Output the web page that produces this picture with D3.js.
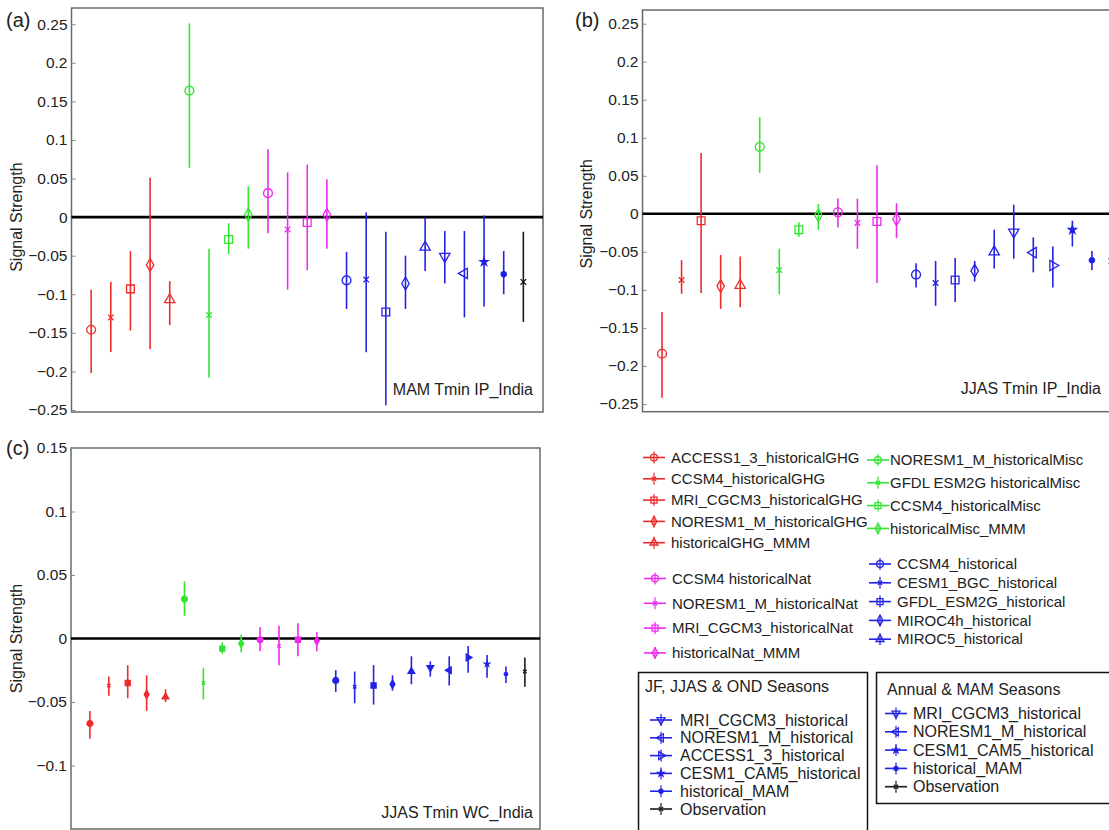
<!DOCTYPE html>
<html>
<head>
<meta charset="utf-8">
<script src="https://cdn.jsdelivr.net/npm/d3@7"></script>
<style>
  body { margin: 0; background: #fff; }
  text { font-family: "Liberation Sans", Arial, Helvetica, sans-serif; fill: #222; }
</style>
</head>
<body>
<svg id="chart" width="1109" height="830"></svg>
<script>
// category keys, one per error bar (left to right)
var keysAll = ['ACCESS1_3_GHG', 'CCSM4_GHG', 'MRI_CGCM3_GHG', 'NORESM1_M_GHG', 'GHG_MMM',
	'NORESM1_M_Misc', 'GFDL_ESM2G_Misc', 'CCSM4_Misc', 'Misc_MMM',
	'CCSM4_Nat', 'NORESM1_M_Nat', 'MRI_CGCM3_Nat', 'Nat_MMM',
	'CCSM4_hist', 'CESM1_BGC_hist', 'GFDL_ESM2G_hist', 'MIROC4h_hist', 'MIROC5_hist',
	'MRI_CGCM3_hist', 'NORESM1_M_hist', 'ACCESS1_3_hist', 'CESM1_CAM5_hist', 'hist_MMM', 'Observation'];
// MAM panel has no ACCESS1_3 historical run
var keysA = keysAll.filter(function(k) { return k !== 'ACCESS1_3_hist'; });

// (a) MAM Tmin IP_India
var meanA = [-0.146, -0.130, -0.093, -0.062, -0.107, 0.164, -0.127, -0.029, 0.003, 0.031, -0.016, -0.007, 0.003,
	-0.082, -0.081, -0.123, -0.086, -0.039, -0.051, -0.073, -0.058, -0.074, -0.084];
var lowA = [-0.202, -0.175, -0.147, -0.171, -0.140, 0.064, -0.208, -0.048, -0.041, -0.021, -0.094, -0.069, -0.041,
	-0.119, -0.175, -0.244, -0.119, -0.070, -0.086, -0.130, -0.116, -0.100, -0.136];
var highA = [-0.094, -0.084, -0.044, 0.051, -0.083, 0.251, -0.041, -0.008, 0.040, 0.088, 0.058, 0.068, 0.049,
	-0.045, 0.006, -0.019, -0.050, -0.001, -0.018, -0.018, 0.002, -0.044, -0.019];

// (b) JJAS Tmin IP_India
var meanB = [-0.184, -0.087, -0.009, -0.095, -0.094, 0.088, -0.074, -0.021, -0.002, 0.002, -0.012, -0.010, -0.007,
	-0.080, -0.091, -0.087, -0.075, -0.050, -0.024, -0.051, -0.068, -0.021, -0.061, -0.062];
var lowB = [-0.242, -0.105, -0.104, -0.125, -0.123, 0.054, -0.106, -0.030, -0.021, -0.018, -0.046, -0.091, -0.032,
	-0.097, -0.121, -0.116, -0.089, -0.072, -0.059, -0.077, -0.097, -0.043, -0.074, -0.075];
var highB = [-0.129, -0.061, 0.080, -0.054, -0.056, 0.127, -0.046, -0.011, 0.013, 0.020, 0.020, 0.064, 0.014,
	-0.065, -0.062, -0.058, -0.062, -0.021, 0.012, -0.031, -0.043, -0.009, -0.049, -0.048];

// (c) JJAS Tmin WC_India
var meanC = [-0.067, -0.037, -0.035, -0.044, -0.046, 0.031, -0.035, -0.008, -0.004, -0.001, -0.006, -0.001, -0.002,
	-0.033, -0.038, -0.037, -0.036, -0.026, -0.023, -0.025, -0.015, -0.020, -0.028, -0.026];
var lowC = [-0.079, -0.045, -0.047, -0.057, -0.050, 0.018, -0.048, -0.012, -0.011, -0.010, -0.021, -0.014, -0.010,
	-0.042, -0.051, -0.052, -0.041, -0.036, -0.030, -0.037, -0.027, -0.031, -0.035, -0.038];
var highC = [-0.057, -0.030, -0.021, -0.029, -0.040, 0.045, -0.023, -0.003, 0.003, 0.009, 0.010, 0.012, 0.005,
	-0.025, -0.026, -0.021, -0.029, -0.014, -0.018, -0.014, -0.006, -0.013, -0.022, -0.015];

var ticksAB = [-0.25, -0.2, -0.15, -0.1, -0.05, 0, 0.05, 0.1, 0.15, 0.2, 0.25];
var ticksC = [-0.1, -0.05, 0, 0.05, 0.1, 0.15];

// legend labels
var legendGHG = [['ACCESS1_3_GHG', 'ACCESS1_3_historicalGHG'], ['CCSM4_GHG', 'CCSM4_historicalGHG'],
	['MRI_CGCM3_GHG', 'MRI_CGCM3_historicalGHG'], ['NORESM1_M_GHG', 'NORESM1_M_historicalGHG'], ['GHG_MMM', 'historicalGHG_MMM']];
var legendMisc = [['NORESM1_M_Misc', 'NORESM1_M_historicalMisc'], ['GFDL_ESM2G_Misc', 'GFDL ESM2G historicalMisc'],
	['CCSM4_Misc', 'CCSM4_historicalMisc'], ['Misc_MMM', 'historicalMisc_MMM']];
var legendNat = [['CCSM4_Nat', 'CCSM4 historicalNat'], ['NORESM1_M_Nat', 'NORESM1_M_historicalNat'],
	['MRI_CGCM3_Nat', 'MRI_CGCM3_historicalNat'], ['Nat_MMM', 'historicalNat_MMM']];
var legendHist = [['CCSM4_hist', 'CCSM4_historical'], ['CESM1_BGC_hist', 'CESM1_BGC_historical'],
	['GFDL_ESM2G_hist', 'GFDL_ESM2G_historical'], ['MIROC4h_hist', 'MIROC4h_historical'], ['MIROC5_hist', 'MIROC5_historical']];
var legendJJAS = [['MRI_CGCM3_hist', 'MRI_CGCM3_historical'], ['NORESM1_M_hist', 'NORESM1_M_historical'],
	['ACCESS1_3_hist', 'ACCESS1_3_historical'], ['CESM1_CAM5_hist', 'CESM1_CAM5_historical'],
	['hist_MMM', 'historical_MAM'], ['Observation', 'Observation']];
var legendMAM = [['MRI_CGCM3_hist', 'MRI_CGCM3_historical'], ['NORESM1_M_hist', 'NORESM1_M_historical'],
	['CESM1_CAM5_hist', 'CESM1_CAM5_historical'], ['hist_MMM', 'historical_MAM'], ['Observation', 'Observation']];

var RED = '#ee2b2b', GREEN = '#33e533', MAG = '#ee2aee', BLUE = '#2222e6', BLACK = '#1a1a1a';

// marker style per key: colour, symbol, rotation, filled
var styles = {};
function setStyle(k, color, type, rot, filled) { styles[k] = {color: color, type: type, rot: rot || 0, filled: !!filled}; }
setStyle('ACCESS1_3_GHG', RED, 'circle'); setStyle('CCSM4_GHG', RED, 'x'); setStyle('MRI_CGCM3_GHG', RED, 'square');
setStyle('NORESM1_M_GHG', RED, 'diamond'); setStyle('GHG_MMM', RED, 'triangle');
setStyle('NORESM1_M_Misc', GREEN, 'circle'); setStyle('GFDL_ESM2G_Misc', GREEN, 'x'); setStyle('CCSM4_Misc', GREEN, 'square');
setStyle('Misc_MMM', GREEN, 'diamond');
setStyle('CCSM4_Nat', MAG, 'circle'); setStyle('NORESM1_M_Nat', MAG, 'x'); setStyle('MRI_CGCM3_Nat', MAG, 'square');
setStyle('Nat_MMM', MAG, 'diamond');
setStyle('CCSM4_hist', BLUE, 'circle'); setStyle('CESM1_BGC_hist', BLUE, 'x'); setStyle('GFDL_ESM2G_hist', BLUE, 'square');
setStyle('MIROC4h_hist', BLUE, 'diamond'); setStyle('MIROC5_hist', BLUE, 'triangle');
setStyle('MRI_CGCM3_hist', BLUE, 'triangle', 180); setStyle('NORESM1_M_hist', BLUE, 'triangle', -90);
setStyle('ACCESS1_3_hist', BLUE, 'triangle', 90); setStyle('CESM1_CAM5_hist', BLUE, 'star', 0, true);
setStyle('hist_MMM', BLUE, 'dot', 0, true); setStyle('Observation', BLACK, 'x');

var symbolTypes = {circle: d3.symbolCircle, x: d3.symbolX, square: d3.symbolSquare, diamond: d3.symbolDiamond,
	triangle: d3.symbolTriangle, star: d3.symbolStar, dot: d3.symbolCircle};
var symbolSizes = {circle: 62, x: 22, square: 60, diamond: 48, triangle: 46, star: 20, dot: 22};

var svg = d3.select('#chart');
svg.append('rect').attr('width', 1109).attr('height', 830).attr('fill', '#fff');

function fmt(v) {
	if (v === 0) return '0';
	return String(+v.toFixed(2)).replace('-', '\u2212');
}

function drawMarker(g, key, cx, cy, scale, small) {
	var s = styles[key];
	var size = symbolSizes[s.type] * scale;
	var filled = s.filled || small;
	g.append('path')
		.attr('d', d3.symbol().type(symbolTypes[s.type]).size(size)())
		.attr('transform', 'translate(' + cx + ',' + cy + ') rotate(' + s.rot + ')')
		.attr('fill', filled ? s.color : 'none')
		.attr('stroke', s.color)
		.attr('stroke-width', small ? 1.2 : 1.3);
}

function drawPanel(cfg) {
	var g = svg.append('g');
	var x = d3.scaleLinear().domain(cfg.xDomain).range(cfg.xRange);
	var y = d3.scaleLinear().domain(cfg.yDomain).range(cfg.yRange);

	g.append('rect')
		.attr('x', cfg.xRange[0]).attr('y', cfg.yRange[1])
		.attr('width', cfg.xRange[1] - cfg.xRange[0])
		.attr('height', cfg.yRange[0] - cfg.yRange[1])
		.attr('fill', '#fff').attr('stroke', '#6a6a6a').attr('stroke-width', 1.5);

	var yAxis = g.append('g')
		.attr('transform', 'translate(' + cfg.xRange[0] + ',0)')
		.call(d3.axisLeft(y).tickValues(cfg.ticks).tickFormat(fmt).tickSize(-4).tickPadding(4));
	yAxis.select('.domain').remove();
	yAxis.selectAll('.tick line').attr('stroke', '#888');
	yAxis.selectAll('.tick text').style('font-size', '15.5px').attr('fill', '#222');

	g.append('line')
		.attr('x1', cfg.xRange[0]).attr('x2', cfg.xRange[1])
		.attr('y1', y(0)).attr('y2', y(0))
		.attr('stroke', '#000').attr('stroke-width', 2.6);

	cfg.keys.forEach(function(k, i) {
		var cx = x(i + 1);
		g.append('line')
			.attr('x1', cx).attr('x2', cx)
			.attr('y1', y(cfg.low[i])).attr('y2', y(cfg.high[i]))
			.attr('stroke', styles[k].color).attr('stroke-width', 1.6);
		drawMarker(g, k, cx, y(cfg.mean[i]), cfg.small ? 0.45 : 1, cfg.small);
	});

	g.append('text')
		.attr('transform', 'translate(' + cfg.ylabelX + ',' + y(0) + ') rotate(-90)')
		.attr('text-anchor', 'middle')
		.style('font-size', '16px')
		.text('Signal Strength');

	g.append('text')
		.attr('x', cfg.tagX).attr('y', cfg.tagY)
		.style('font-size', '20px')
		.text(cfg.tag);

	g.append('text')
		.attr('x', cfg.noteX).attr('y', cfg.noteY)
		.attr('text-anchor', 'end')
		.style('font-size', '16px')
		.text(cfg.note);
}

drawPanel({keys: keysA, mean: meanA, low: lowA, high: highA, ticks: ticksAB,
	xDomain: [0, 24], xRange: [71.5, 543], yDomain: [-0.2526, 0.271], yRange: [412, 8],
	ylabelX: 22, tag: '(a)', tagX: 6, tagY: 27, note: 'MAM Tmin IP_India', noteX: 533, noteY: 395});

drawPanel({keys: keysAll, mean: meanB, low: lowB, high: highB, ticks: ticksAB,
	xDomain: [0, 25], xRange: [642.5, 1131], yDomain: [-0.2602, 0.268], yRange: [411.7, 10],
	ylabelX: 592, tag: '(b)', tagX: 575, tagY: 27, note: 'JJAS Tmin IP_India', noteX: 1101, noteY: 394});

drawPanel({keys: keysAll, mean: meanC, low: lowC, high: highC, ticks: ticksC, small: true,
	xDomain: [0, 24.8], xRange: [71, 540], yDomain: [-0.15, 0.15], yRange: [829, 448],
	ylabelX: 22, tag: '(c)', tagX: 6, tagY: 455, note: 'JJAS Tmin WC_India', noteX: 533, noteY: 818});

// legends
function legendItem(key, label, lx, ly, tx, fontSize) {
	var s = styles[key];
	var g = svg.append('g');
	g.append('line').attr('x1', lx).attr('x2', lx + 22).attr('y1', ly).attr('y2', ly)
		.attr('stroke', s.color).attr('stroke-width', 1.6);
	g.append('line').attr('x1', lx + 11).attr('x2', lx + 11).attr('y1', ly - 6).attr('y2', ly + 6)
		.attr('stroke', s.color).attr('stroke-width', 1.2);
	drawMarker(g, key, lx + 11, ly, 0.6, false);
	g.append('text').attr('x', tx).attr('y', ly).attr('dy', '0.35em')
		.style('font-size', fontSize + 'px').text(label);
}

legendGHG.forEach(function(d, i) { legendItem(d[0], d[1], 643, 457.5 + i * 21.3, 671, 15); });
legendMisc.forEach(function(d, i) { legendItem(d[0], d[1], 867, 460 + i * 22.8, 890, 15); });
legendNat.forEach(function(d, i) { legendItem(d[0], d[1], 644, 578.5 + i * 24.8, 672, 15); });
legendHist.forEach(function(d, i) { legendItem(d[0], d[1], 869, 564 + i * 18.8, 897, 15); });

svg.append('rect').attr('x', 638.5).attr('y', 672.5).attr('width', 229).attr('height', 180)
	.attr('fill', 'none').attr('stroke', '#111').attr('stroke-width', 1.5);
svg.append('text').attr('x', 645).attr('y', 686.5).attr('dy', '0.35em').style('font-size', '16px')
	.text('JF, JJAS & OND Seasons');
legendJJAS.forEach(function(d, i) { legendItem(d[0], d[1], 650, 720 + i * 17.8, 680, 16); });

svg.append('rect').attr('x', 876.5).attr('y', 672.5).attr('width', 260).attr('height', 131)
	.attr('fill', 'none').attr('stroke', '#111').attr('stroke-width', 1.5);
svg.append('text').attr('x', 887).attr('y', 689).attr('dy', '0.35em').style('font-size', '16px')
	.text('Annual & MAM Seasons');
legendMAM.forEach(function(d, i) { legendItem(d[0], d[1], 885, 713.5 + i * 18.3, 913, 16); });
</script>
</body>
</html>
